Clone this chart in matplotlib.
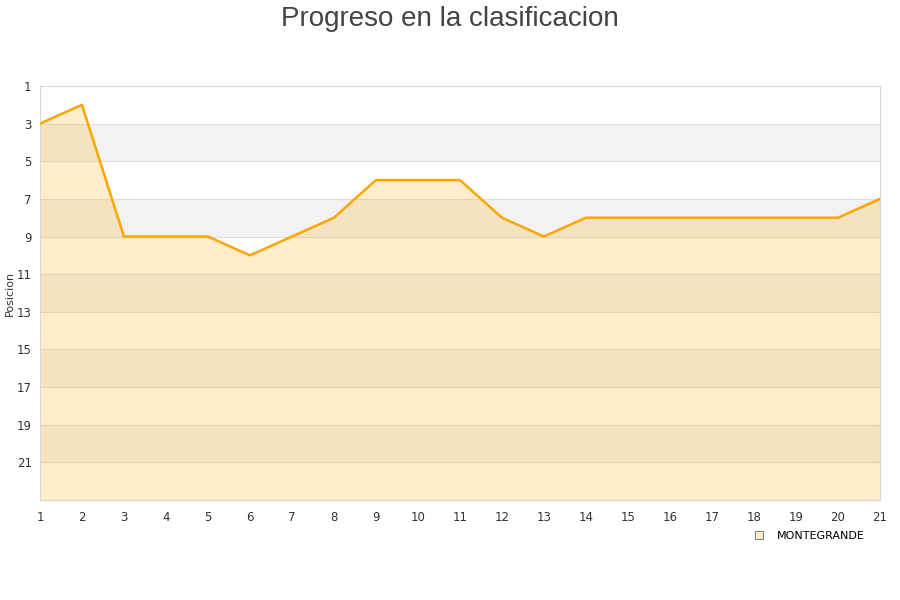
import matplotlib
matplotlib.use("Agg")
import matplotlib.pyplot as plt
from matplotlib.lines import Line2D

jornadas = list(range(1, 22))
posicion = [3, 2, 9, 9, 9, 10, 9, 8, 6, 6, 6, 8, 9, 8, 8, 8, 8, 8, 8, 8, 7]
equipo = "MONTEGRANDE"
y_ticks = list(range(1, 22, 2))

fig = plt.figure(figsize=(9, 6), dpi=100)
ax = fig.add_axes([0.0444, 0.1667, 0.9333, 0.69])

# alternating horizontal bands
for i, y0 in enumerate(range(1, 23, 2)):
    color = "white" if i % 2 == 0 else "#f2f2f2"
    ax.axhspan(y0, y0 + 2, color=color, zorder=0, lw=0)
for y in y_ticks[1:]:
    ax.axhline(y, color="#dedede", lw=0.8, zorder=1)

ax.fill_between(jornadas, posicion, 23, color="#ffa500", alpha=0.2, lw=0, zorder=2)
ax.plot(jornadas, posicion, color="#ffa500", lw=1.8, zorder=3)

ax.set_xlim(1, 21)
ax.set_ylim(23, 1)
ax.set_xticks(jornadas)
ax.set_yticks(y_ticks)
ax.tick_params(axis="both", length=0, labelsize=8.5, colors="#333333", pad=8)
ax.tick_params(axis="y", pad=6)
for side in ["top", "right", "left", "bottom"]:
    ax.spines[side].set_color("#d8d8d8")
ax.set_ylabel("Posicion", fontsize=8, color="#333333", labelpad=1)

fig.suptitle("Progreso en la clasificacion", fontsize=20, color="#444444",
             y=0.99, family="Liberation Sans")

handle = Line2D([], [], marker="s", ls="none", markersize=6,
                markerfacecolor="#ffedcc", markeredgecolor="#666666", markeredgewidth=0.6)
fig.legend([handle], [equipo], loc="center right", bbox_to_anchor=(0.972, 0.107),
           frameon=False, fontsize=8, handletextpad=0.6)

fig.savefig("out.png", dpi=100)
